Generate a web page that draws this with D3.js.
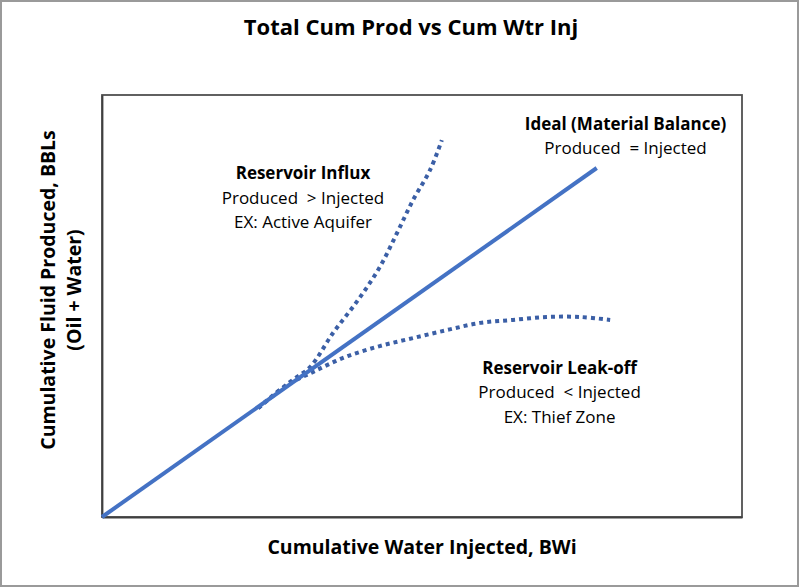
<!DOCTYPE html>
<html>
<head>
<meta charset="utf-8">
<script src="https://cdn.jsdelivr.net/npm/d3@7"></script>
<style>
  html, body { margin: 0; padding: 0; background: #fff; }
  svg { display: block; }
  text { font-family: "Open Sans", Lato, sans-serif; fill: #000; }
</style>
</head>
<body>
<svg id="chart" width="800" height="588"></svg>
<script>
// ---- data (arbitrary units, 0..100 on both axes) ----
const idealX = [0, 77.3];
const idealY = [0, 82.7];

const influxX = [24.4, 29.8, 32.5, 36.1, 40.0, 43.4, 46.1, 48.6, 51.25, 53.1];
const influxY = [25.8, 32.5, 35.5, 43.6, 51.4, 59.2, 67.3, 75.1, 82.2, 89.3];

const leakX = [24.4, 28.6, 33.0, 38.0, 43.4, 48.6, 53.9, 59.1, 64.2, 69.5, 74.7, 79.4];
const leakY = [25.8, 31.0, 34.4, 37.9, 40.5, 42.4, 44.3, 46.0, 46.7, 47.4, 47.4, 46.7];

const titleText = "Total Cum Prod vs Cum Wtr Inj";
const xLabel = "Cumulative Water Injected, BWi";
const yLabel1 = "Cumulative Fluid Produced, BBLs";
const yLabel2 = "(Oil + Water)";

const annotations = [
  { x: 31.4, y: 80.0, lines: ["Reservoir Influx", "Produced  > Injected", "EX: Active Aquifer"] },
  { x: 81.8, y: 91.8, lines: ["Ideal (Material Balance)", "Produced  = Injected"] },
  { x: 71.5, y: 34.0, lines: ["Reservoir Leak-off", "Produced  < Injected", "EX: Thief Zone"] }
];

// ---- layout ----
const W = 800, H = 588;
const plot = { left: 102, top: 95, right: 742, bottom: 517 };

const svg = d3.select("#chart");

// outer border
svg.append("rect")
  .attr("x", 1).attr("y", 1).attr("width", W - 3).attr("height", H - 3)
  .attr("fill", "#fff").attr("stroke", "#9a9a9a").attr("stroke-width", 2);

const x = d3.scaleLinear().domain([0, 100]).range([plot.left, plot.right]);
const y = d3.scaleLinear().domain([0, 100]).range([plot.bottom, plot.top]);

// plot area border
svg.append("rect")
  .attr("x", plot.left).attr("y", plot.top)
  .attr("width", plot.right - plot.left).attr("height", plot.bottom - plot.top)
  .attr("fill", "none").attr("stroke", "#505050").attr("stroke-width", 1.8);

// axes without ticks
svg.append("g").attr("transform", `translate(0,${plot.bottom})`)
  .call(d3.axisBottom(x).tickValues([]).tickSizeOuter(0))
  .call(g => g.select(".domain").attr("stroke", "#404040").attr("stroke-width", 1.8));
svg.append("g").attr("transform", `translate(${plot.left},0)`)
  .call(d3.axisLeft(y).tickValues([]).tickSizeOuter(0))
  .call(g => g.select(".domain").attr("stroke", "#404040").attr("stroke-width", 1.8));

const line = d3.line().x(d => x(d[0])).y(d => y(d[1]));
const smooth = d3.line().x(d => x(d[0])).y(d => y(d[1])).curve(d3.curveCatmullRom);

// dotted curves
svg.append("path")
  .datum(influxX.map((v, i) => [v, influxY[i]]))
  .attr("d", smooth)
  .attr("fill", "none").attr("stroke", "#3b5fa6").attr("stroke-width", 4)
  .attr("stroke-dasharray", "4 4");

svg.append("path")
  .datum(leakX.map((v, i) => [v, leakY[i]]))
  .attr("d", smooth)
  .attr("fill", "none").attr("stroke", "#3b5fa6").attr("stroke-width", 4)
  .attr("stroke-dasharray", "4 4");

// ideal solid line
svg.append("path")
  .datum(idealX.map((v, i) => [v, idealY[i]]))
  .attr("d", line)
  .attr("fill", "none").attr("stroke", "#4472c4").attr("stroke-width", 4);

// title
svg.append("text")
  .attr("x", 411).attr("y", 35)
  .attr("text-anchor", "middle")
  .attr("font-size", 22).attr("font-weight", "bold")
  .text(titleText);

// x label
svg.append("text")
  .attr("x", 422).attr("y", 554)
  .attr("text-anchor", "middle")
  .attr("font-size", 19.5).attr("font-weight", "bold")
  .text(xLabel);

// y labels
svg.append("text")
  .attr("transform", `translate(55,290) rotate(-90)`)
  .attr("text-anchor", "middle")
  .attr("font-size", 19.5).attr("font-weight", "bold")
  .text(yLabel1);
svg.append("text")
  .attr("transform", `translate(81,290) rotate(-90)`)
  .attr("text-anchor", "middle")
  .attr("font-size", 19.5).attr("font-weight", "bold")
  .text(yLabel2);

// annotations
annotations.forEach(a => {
  const t = svg.append("text")
    .attr("x", x(a.x)).attr("y", y(a.y))
    .attr("text-anchor", "middle")
    .attr("font-size", 17);
  a.lines.forEach((l, i) => {
    t.append("tspan")
      .attr("x", x(a.x))
      .attr("dy", i === 0 ? 0 : 24.5)
      .attr("font-weight", i === 0 ? "bold" : "normal")
      .attr("xml:space", "preserve")
      .style("white-space", "pre")
      .text(l);
  });
});
</script>
</body>
</html>
